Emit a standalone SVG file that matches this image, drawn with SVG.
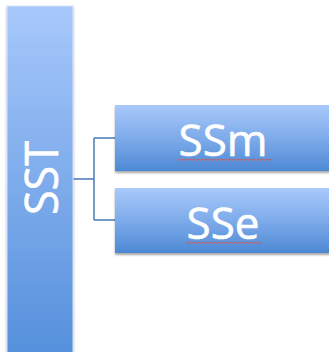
<svg xmlns="http://www.w3.org/2000/svg" width="329" height="352" viewBox="0 0 329 352">
  <defs>
    <linearGradient id="tall" x1="0" y1="0" x2="0" y2="1">
      <stop offset="0" stop-color="#a7c8fb"/>
      <stop offset="1" stop-color="#5590dc"/>
    </linearGradient>
    <linearGradient id="bar" x1="0" y1="0" x2="0" y2="1">
      <stop offset="0" stop-color="#a8c9fb"/>
      <stop offset="0.5" stop-color="#7eabea"/>
      <stop offset="1" stop-color="#4d89d5"/>
    </linearGradient>
    <filter id="shadow" x="-10%" y="-10%" width="120%" height="130%">
      <feGaussianBlur in="SourceAlpha" stdDeviation="1"/>
      <feOffset dx="0" dy="1.5" result="b"/>
      <feComponentTransfer><feFuncA type="linear" slope="0.35"/></feComponentTransfer>
      <feMerge><feMergeNode/><feMergeNode in="SourceGraphic"/></feMerge>
    </filter>
  </defs>
  <style>
    .label { font-family: "Open Sans", "Liberation Sans", sans-serif; fill: #ffffff; stroke: #ffffff; stroke-width: 0.6; text-anchor: middle; }
    .link { fill: none; stroke: #4a7ab5; stroke-width: 1.5; }
    .spell { fill: none; stroke: #d9534f; stroke-width: 0.9; }
  </style>

  <!-- connectors -->
  <g id="connectors">
    <path class="link" d="M73,179 H94 M94,138 V220 M94,138 H115 M94,220 H115"/>
  </g>

  <!-- root node -->
  <g id="sst">
    <rect x="7" y="6" width="66" height="350" fill="url(#tall)" stroke="#d6e4f7" stroke-width="1" filter="url(#shadow)"/>
    <text class="label" transform="translate(58,178) rotate(-90)" font-size="45">SST</text>
  </g>

  <!-- child nodes -->
  <g id="ssm">
    <rect x="115" y="105" width="220" height="66" fill="url(#bar)" filter="url(#shadow)"/>
    <text class="label" x="223" y="156" font-size="44">SSm</text>
    <path class="spell" d="M178,159 l2,1.5 l2,-1.5 l2,1.5 l2,-1.5 l2,1.5 l2,-1.5 l2,1.5 l2,-1.5 l2,1.5 l2,-1.5 l2,1.5 l2,-1.5 l2,1.5 l2,-1.5 l2,1.5 l2,-1.5 l2,1.5 l2,-1.5 l2,1.5 l2,-1.5 l2,1.5 l2,-1.5 l2,1.5 l2,-1.5 l2,1.5 l2,-1.5 l2,1.5 l2,-1.5 l2,1.5 l2,-1.5 l2,1.5 l2,-1.5 l2,1.5 l2,-1.5 l2,1.5 l2,-1.5 l2,1.5 l2,-1.5 l2,1.5 l2,-1.5 l2,1.5 l2,-1.5 l2,1.5 l2,-1.5 l2,1.5 l2,-1.5 l2,1.5"/>
  </g>

  <g id="sse">
    <rect x="115" y="188" width="220" height="65" fill="url(#bar)" filter="url(#shadow)"/>
    <text class="label" x="223" y="239" font-size="44">SSe</text>
    <path class="spell" d="M186,242 l2,1.5 l2,-1.5 l2,1.5 l2,-1.5 l2,1.5 l2,-1.5 l2,1.5 l2,-1.5 l2,1.5 l2,-1.5 l2,1.5 l2,-1.5 l2,1.5 l2,-1.5 l2,1.5 l2,-1.5 l2,1.5 l2,-1.5 l2,1.5 l2,-1.5 l2,1.5 l2,-1.5 l2,1.5 l2,-1.5 l2,1.5 l2,-1.5 l2,1.5 l2,-1.5 l2,1.5 l2,-1.5 l2,1.5 l2,-1.5 l2,1.5 l2,-1.5 l2,1.5 l2,-1.5 l2,1.5 l2,-1.5"/>
  </g>
</svg>
